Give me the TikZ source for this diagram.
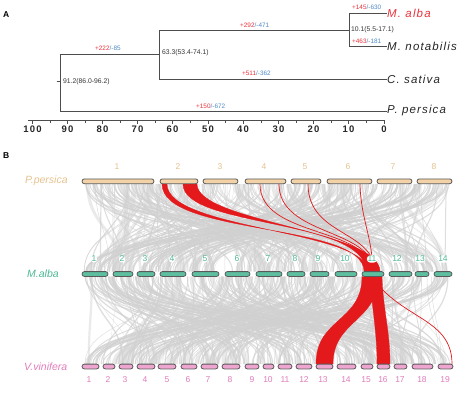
\documentclass[tikz,border=0pt]{standalone}
\usepackage{fontspec}
\setmainfont{Liberation Sans}
\newfontfamily\tipfont[LetterSpace=10]{Liberation Sans}
\newfontfamily\axfont[LetterSpace=12]{Liberation Sans}
\usetikzlibrary{calc}
\definecolor{plusred}{HTML}{E8333A}
\definecolor{minblue}{HTML}{4F88C8}
\definecolor{treegray}{HTML}{4D4D4D}
\definecolor{tanfill}{HTML}{F2D2A6}
\definecolor{tantext}{HTML}{E6C290}
\definecolor{tealfill}{HTML}{5DBF9F}
\definecolor{tealtext}{HTML}{4DB893}
\definecolor{pinkfill}{HTML}{EEA6D0}
\definecolor{pinktext}{HTML}{E07DBB}
\definecolor{linkred}{HTML}{E3191C}
\definecolor{linkgray}{HTML}{D0D0D0}
\definecolor{chrline}{HTML}{5A5A5A}
\pgfdeclarelayer{bg}
\pgfsetlayers{bg,main}
\tikzset{
  branch/.style={draw=treegray, line width=0.9pt},
  small/.style={font=\fontsize{6.4}{7}\selectfont, inner sep=0pt, anchor=west},
  agelab/.style={font=\fontsize{6.8}{8}\selectfont, text=black!80, inner sep=0pt, anchor=west},
  tiplab/.style={font=\tipfont\itshape\fontsize{11.5}{13}\selectfont, inner sep=0pt, anchor=west},
  axlab/.style={font=\axfont\bfseries\fontsize{9.5}{10}\selectfont, inner sep=0pt, text=black!85},
  chrom/.style={draw=chrline, line width=0.8pt, rounded corners=2.4pt, minimum height=4.8pt, inner sep=0pt},
  pchr/.style={chrom, fill=tanfill},
  mchr/.style={chrom, fill=tealfill},
  vchr/.style={chrom, fill=pinkfill},
  numlab/.style={font=\fontsize{8.5}{9}\selectfont, fill=white, inner sep=0.6pt, rounded corners=3pt},
  genlab/.style={font=\itshape\fontsize{10.5}{12}\selectfont, inner sep=0pt, anchor=west},
  graylink/.style={draw=linkgray, draw opacity=0.7},
  grayband/.style={fill=linkgray, fill opacity=0.45},
  redband/.style={fill=linkred, draw=linkred, line width=0.3pt},
  redline/.style={draw=linkred, line width=0.7pt},
}
\begin{document}
\begin{tikzpicture}[x=1pt,y=-1pt]
\useasboundingbox (0,0) rectangle (467,392);
% ---------------- Panel A ----------------
\node[font=\bfseries\fontsize{8.5}{9}\selectfont, anchor=west, inner sep=0pt] (labA) at (3,15) {A};
\coordinate (root) at (60,81);
\coordinate (rtop) at (60,54);
\coordinate (rbot) at (60,111);
\coordinate (nros) at (159,54);
\coordinate (rosT) at (159,30);
\coordinate (rosB) at (159,79);
\coordinate (morT) at (349,13);
\coordinate (morM) at (349,30);
\coordinate (morB) at (349,46);
\coordinate (stub) at (56.5,81);
\node[tiplab, text=plusred] (malba) at (387,13) {M. alba};
\node[tiplab, text=black!85] (mnot) at (387,46) {M. notabilis};
\node[tiplab, text=black!85] (csat) at (387,79) {C. sativa};
\node[tiplab, text=black!85] (ppers) at (387,111) {P. persica};
\draw[branch] (rtop) -- (rbot);
\draw[branch] (stub) -- (root);
\draw[branch] (rtop) -- (nros);
\draw[branch] (rosT) -- (rosB);
\draw[branch] (rosT) -- (morM);
\draw[branch] (morT) -- (morB);
\draw[branch] (morT) -- (malba.west);
\draw[branch] (morB) -- (mnot.west);
\draw[branch] (rosB) -- (csat.west);
\draw[branch] (rbot) -- (ppers.west);
\node[small] (g1) at (95,48.5) {\textcolor{plusred}{+222}\textcolor{minblue}{/-85}};
\node[small] (g2) at (240,25) {\textcolor{plusred}{+292}\textcolor{minblue}{/-471}};
\node[small] (g3) at (352,7) {\textcolor{plusred}{+145}\textcolor{minblue}{/-630}};
\node[small] (g4) at (352,41) {\textcolor{plusred}{+463}\textcolor{minblue}{/-181}};
\node[small] (g5) at (242,73.5) {\textcolor{plusred}{+511}\textcolor{minblue}{/-362}};
\node[small] (g6) at (196,106) {\textcolor{plusred}{+150}\textcolor{minblue}{/-672}};
\node[agelab] (a1) at (351,29.5) {10.1(5.5-17.1)};
\node[agelab] (a2) at (162,53) {63.3(53.4-74.1)};
\node[agelab] (a3) at (63,81.5) {91.2(86.0-96.2)};
% axis
\coordinate (axL) at (28,120);
\coordinate (axR) at (385,120);
\draw[branch, line width=0.8pt] (axL) -- (axR);
\foreach \v/\x in {100/32.5,90/67.5,80/102.5,70/137.5,60/172.5,50/208,40/243,30/278.5,20/313.5,10/348.5,0/384}{
  \draw[treegray, line width=0.8pt] (\x,120) -- (\x,124);
  \node[axlab] (ax\v) at (\x,129.5) {\v};
}
\foreach \x in {50,85,120,155,190,225.5,261,296,331,366}{
  \draw[treegray, line width=0.6pt] (\x,120) -- (\x,122.5);
}
% ---------------- Panel B ----------------
\node[font=\bfseries\fontsize{8.5}{9}\selectfont, anchor=west, inner sep=0pt] (labB) at (3,156) {B};
\node[genlab, text=tantext] (gP) at (25,181) {P.persica};
\node[genlab, text=tealtext] (gM) at (27,274) {M.alba};
\node[genlab, text=pinktext] (gV) at (24,366.5) {V.vinifera};
% chromosomes
\foreach \a/\b/\n in {82/154/1,160/198/2,203/238/3,245/286/4,291/321/5,327/372/6,377/412/7,417/452/8}{
  \node[pchr, minimum width={(\b-\a)*1pt}] (p\n) at ({(\a+\b)/2},181.3) {};
}
\foreach \a/\b/\n in {82/108/1,113/133/2,137/155/3,160/186/4,192/219/5,225/250/6,256/282/7,287/305/8,310/329/9,335/357/10,362/384/11,389/412/12,415/429/13,434/452/14}{
  \node[mchr, minimum width={(\b-\a)*1pt}] (m\n) at ({(\a+\b)/2},274) {};
}
\foreach \a/\b/\n in {82/99/1,103/115/2,119/133/3,137/155/4,158/176/5,181/197/6,201/218/7,222/240/8,245/259/9,263/274/10,278/292/11,296/312/12,316/333/13,337/356/14,361/373/15,377/390/16,394/407/17,412/433/18,438/453/19}{
  \node[vchr, minimum width={(\b-\a)*1pt}] (v\n) at ({(\a+\b)/2},366.5) {};
}
% chromosome numbers
\foreach \x/\n in {117/1,178/2,220/3,264/4,305/5,348/6,393/7,434/8}{
  \node[numlab, text=tantext] (pn\n) at (\x,167) {\n};
}
\foreach \x/\n in {94/1,122/2,145/3,172/4,205/5,237/6,268/7,295/8,318/9,345/10,372/11,397/12,420/13,443/14}{
  \node[numlab, text=tealtext] (mn\n) at (\x,259) {\n};
}
\foreach \x/\n in {89/1,108/2,125/3,145/4,167/5,188/6,208/7,230/8,252/9,268/10,285/11,304/12,323/13,346/14,366/15,383/16,400/17,422/18,445/19}{
  \node[numlab, text=pinktext] (vn\n) at (\x,380) {\n};
}
% ---------- links (background) ----------
\begin{pgfonlayer}{bg}
\pgfmathsetseed{4242}
\foreach \i in {1,...,280}{
  \pgfmathsetmacro{\xa}{84+366*rnd}
  \pgfmathsetmacro{\xb}{84+366*rnd}
  \pgfmathsetmacro{\w}{0.25+1.1*rnd}
  \draw[graylink, line width=\w pt] (\xa,184) .. controls (\xa,228) and (\xb,228) .. (\xb,271.5);
}
\foreach \i in {1,...,55}{
  \pgfmathsetmacro{\xa}{84+360*rnd}
  \pgfmathsetmacro{\xb}{84+360*rnd}
  \pgfmathsetmacro{\w}{2+4*rnd}
  \fill[grayband] (\xa,184) .. controls (\xa,228) and (\xb,228) .. (\xb,271.5) -- ({\xb+\w},271.5) .. controls ({\xb+\w},228) and ({\xa+\w},228) .. ({\xa+\w},184) -- cycle;
}
\foreach \i in {1,...,280}{
  \pgfmathsetmacro{\xa}{84+366*rnd}
  \pgfmathsetmacro{\xb}{84+366*rnd}
  \pgfmathsetmacro{\w}{0.25+1.1*rnd}
  \draw[graylink, line width=\w pt] (\xa,276.5) .. controls (\xa,320) and (\xb,320) .. (\xb,364);
}
\foreach \i in {1,...,55}{
  \pgfmathsetmacro{\xa}{84+360*rnd}
  \pgfmathsetmacro{\xb}{84+360*rnd}
  \pgfmathsetmacro{\w}{2+4*rnd}
  \fill[grayband] (\xa,276.5) .. controls (\xa,320) and (\xb,320) .. (\xb,364) -- ({\xb+\w},364) .. controls ({\xb+\w},320) and ({\xa+\w},320) .. ({\xa+\w},276.5) -- cycle;
}
% red links top -> middle
\fill[redband] (183,184) .. controls (183,228) and (366,218) .. (366,271.5) -- (380,271.5) .. controls (380,230) and (197,222) .. (197,184) -- cycle;
\fill[redband] (162,184) .. controls (162,236) and (364,222) .. (364,271.5) -- (368,271.5) .. controls (368,230) and (167,230) .. (167,184) -- cycle;
\draw[redline] (260,184) .. controls (260,238) and (370,226) .. (372,271.5);
\draw[redline] (279,184) .. controls (279,236) and (372,228) .. (374,271.5);
\draw[redline] (308,184) .. controls (308,236) and (374,230) .. (375,271.5);
\draw[redline] (360,184) .. controls (361,220) and (372,235) .. (373,271.5);
% red links middle -> bottom
\fill[redband] (362,276.5) .. controls (362,322) and (316,318) .. (316,364) -- (333,364) .. controls (333,320) and (378,322) .. (378,276.5) -- cycle;
\fill[redband] (370,276.5) .. controls (372,310) and (377,330) .. (377,364) -- (390,364) .. controls (390,330) and (383,310) .. (382,276.5) -- cycle;
\draw[redline] (372,277) .. controls (402,320) and (452,318) .. (452,364);
\end{pgfonlayer}
\end{tikzpicture}
\end{document}
